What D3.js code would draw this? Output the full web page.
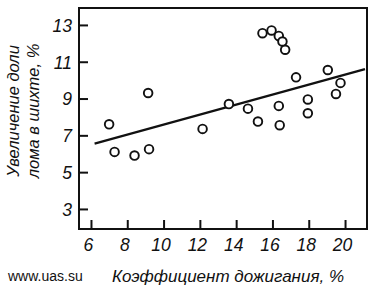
<!DOCTYPE html>
<meta charset="utf-8">
<style>
  body { margin: 0; background: #fff; }
  text { font-family: "Liberation Sans", Arial, sans-serif; fill: #111; }
</style>
<script src="https://cdn.jsdelivr.net/npm/d3@7"></script>
<div id="chart"></div>
<script>
// data
var burnRatio = [7.0, 7.3, 8.4, 9.2, 9.15, 12.15, 13.6, 14.65, 15.2, 16.35, 16.4,
                 15.45, 15.95, 16.35, 16.55, 16.7, 17.3, 17.95, 17.95, 19.05, 19.5, 19.75];
var scrapGain = [7.6, 6.1, 5.9, 6.25, 9.3, 7.35, 8.7, 8.45, 7.75, 8.6, 7.55,
                 12.55, 12.7, 12.4, 12.1, 11.65, 10.15, 8.95, 8.2, 10.55, 9.25, 9.85];
var trendX = [6.2, 21.1];
var trendY = [6.55, 10.6];
var xTicks = [6, 8, 10, 12, 14, 16, 18, 20];
var yTicks = [3, 5, 7, 9, 11, 13];

var W = 378, H = 292;
var box = {left: 79, top: 8, right: 367, bottom: 229};

var svg = d3.select("#chart").append("svg")
    .attr("width", W).attr("height", H);

var x = d3.scaleLinear().domain([5.34, 21.21]).range([box.left, box.right]);
var y = d3.scaleLinear().domain([1.91, 13.92]).range([box.bottom, box.top]);

// frame
svg.append("rect")
    .attr("x", box.left).attr("y", box.top)
    .attr("width", box.right - box.left).attr("height", box.bottom - box.top)
    .attr("fill", "none").attr("stroke", "#111").attr("stroke-width", 2);

// x axis, ticks pointing inward
var gx = svg.append("g")
    .attr("transform", "translate(0," + box.bottom + ")")
    .call(d3.axisBottom(x).tickValues(xTicks).tickSize(-9).tickPadding(14));
gx.select(".domain").remove();
gx.selectAll("line").attr("stroke", "#111").attr("stroke-width", 2);
gx.selectAll("text")
    .attr("font-size", 17.5).attr("font-style", "italic").attr("fill", "#111")
    .attr("dx", -3).attr("dy", "0.45em");

// y axis, ticks pointing inward
var gy = svg.append("g")
    .attr("transform", "translate(" + box.left + ",0)")
    .call(d3.axisLeft(y).tickValues(yTicks).tickSize(-9).tickPadding(7));
gy.select(".domain").remove();
gy.selectAll("line").attr("stroke", "#111").attr("stroke-width", 2);
gy.selectAll("text")
    .attr("font-size", 17.5).attr("font-style", "italic").attr("fill", "#111")
    .attr("dy", "0.36em");

// trend line
var trend = trendX.map(function(d, i) { return [d, trendY[i]]; });
svg.append("path")
    .datum(trend)
    .attr("d", d3.line().x(function(d) { return x(d[0]); }).y(function(d) { return y(d[1]); }))
    .attr("fill", "none").attr("stroke", "#111").attr("stroke-width", 2.2);

// points
svg.append("g").selectAll("circle")
    .data(burnRatio)
    .enter().append("circle")
    .attr("cx", function(d) { return x(d); })
    .attr("cy", function(d, i) { return y(scrapGain[i]); })
    .attr("r", 4.3)
    .attr("fill", "#fff").attr("stroke", "#111").attr("stroke-width", 1.9);

// axis titles
svg.append("text")
    .attr("x", 228).attr("y", 282)
    .attr("text-anchor", "middle")
    .attr("font-size", 17).attr("font-style", "italic")
    .text("Коэффициент дожигания, %");

svg.append("text")
    .attr("x", 8).attr("y", 281)
    .attr("font-size", 14)
    .text("www.uas.su");

var yTitle = svg.append("g").attr("transform", "translate(0,111) rotate(-90)");
yTitle.append("text")
    .attr("x", 0).attr("y", 19)
    .attr("text-anchor", "middle")
    .attr("font-size", 16.5).attr("font-style", "italic")
    .text("Увеличение доли");
yTitle.append("text")
    .attr("x", 0).attr("y", 39)
    .attr("text-anchor", "middle")
    .attr("font-size", 16.5).attr("font-style", "italic")
    .text("лома в шихте, %");
</script>
